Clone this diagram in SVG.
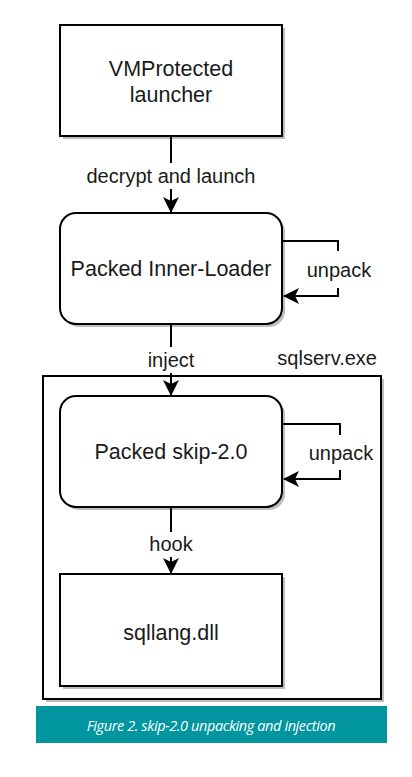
<svg xmlns="http://www.w3.org/2000/svg" width="412" height="777" viewBox="0 0 412 777">
<style>
.box{fill:#fff;stroke:#000;stroke-width:2}
.shadow{fill:#bdbdbd}
.t{font-family:"Liberation Sans",Arial,sans-serif;font-size:21.5px;fill:#1a1a1a;text-anchor:middle}
.lbl{font-family:"Liberation Sans",Arial,sans-serif;font-size:20px;fill:#1a1a1a;text-anchor:middle}
.edge{fill:none;stroke:#000;stroke-width:2}
</style>
<defs>
<marker id="arr" viewBox="0 0 16 16" refX="15" refY="8" markerWidth="16" markerHeight="16" markerUnits="userSpaceOnUse" orient="auto">
<path d="M0,0 L16,8 L0,16 L4,8 Z" fill="#000"/>
</marker>
</defs>
<rect width="412" height="777" fill="#fff"/>

<g id="sqlserv">
<rect class="shadow" x="46" y="379" width="338" height="323"/>
<rect class="box" x="43" y="376" width="338" height="323"/>
<text class="lbl" x="377" y="365" style="text-anchor:end">sqlserv.exe</text>
</g>

<g id="vmprotected">
<rect class="shadow" x="63" y="28" width="222" height="111"/>
<rect class="box" x="60" y="25" width="222" height="111"/>
<text class="t" x="171" y="76">VMProtected</text>
<text class="t" x="171" y="102">launcher</text>
</g>

<g id="innerloader">
<rect class="shadow" x="63" y="216" width="222" height="111" rx="16"/>
<rect class="box" x="60" y="213" width="222" height="111" rx="16"/>
<text class="t" x="171" y="276">Packed Inner-Loader</text>
</g>

<g id="skip">
<rect class="shadow" x="63" y="399" width="222" height="111" rx="16"/>
<rect class="box" x="60" y="396" width="222" height="111" rx="16"/>
<text class="t" x="171" y="459">Packed skip-2.0</text>
</g>

<g id="sqllang">
<rect class="shadow" x="63" y="577" width="222" height="112"/>
<rect class="box" x="60" y="574" width="222" height="112"/>
<text class="t" x="171" y="640">sqllang.dll</text>
</g>

<g id="connectors">
<path class="edge" d="M171,136 V163"/>
<path class="edge" d="M171,189 V212" marker-end="url(#arr)"/>
<text class="lbl" x="171" y="183">decrypt and launch</text>

<path class="edge" d="M283,241 H338 V251"/>
<path class="edge" d="M338,288 V296 H284" marker-end="url(#arr)"/>
<text class="lbl" x="339" y="277">unpack</text>

<path class="edge" d="M171,324 V347"/>
<path class="edge" d="M171,373 V395" marker-end="url(#arr)"/>
<text class="lbl" x="171" y="367">inject</text>

<path class="edge" d="M283,424 H340 V435"/>
<path class="edge" d="M340,470 V479 H284" marker-end="url(#arr)"/>
<text class="lbl" x="341" y="460">unpack</text>

<path class="edge" d="M171,507 V532"/>
<path class="edge" d="M171,557 V573" marker-end="url(#arr)"/>
<text class="lbl" x="171" y="551">hook</text>
</g>

<g id="caption">
<rect x="36" y="706" width="351" height="37" fill="#00959f"/>
<text x="211" y="731" font-family="'Open Sans','Noto Sans',sans-serif" font-style="italic" font-size="14.5" letter-spacing="-0.4" fill="#fff" text-anchor="middle">Figure 2. skip-2.0 unpacking and injection</text>
</g>
</svg>
